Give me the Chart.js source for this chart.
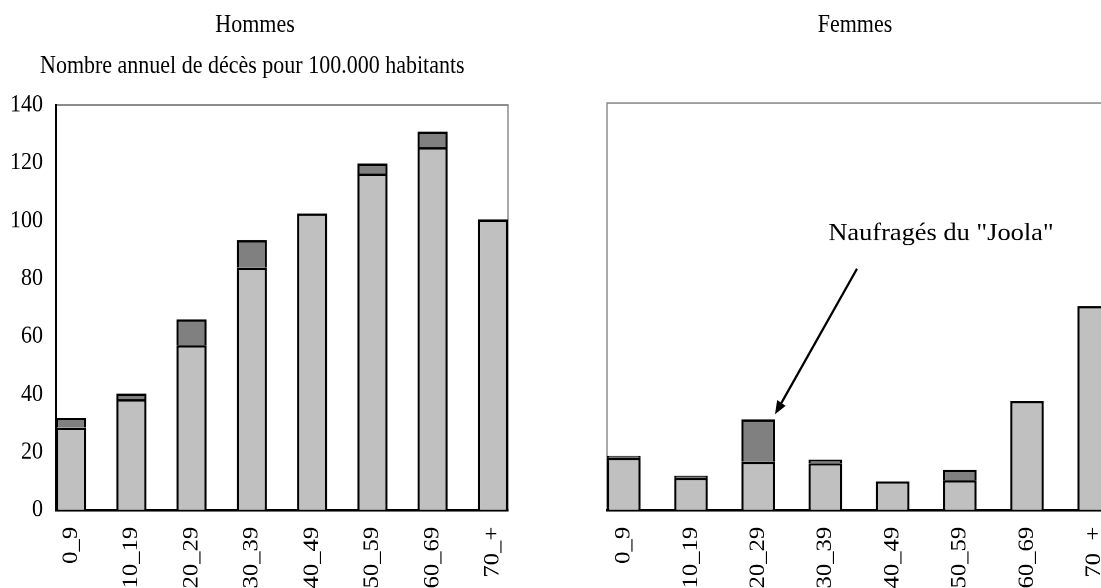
<!DOCTYPE html>
<html>
<head>
<meta charset="utf-8">
<script src="https://cdn.jsdelivr.net/npm/chart.js@4.4.1/dist/chart.umd.min.js"></script>
<style>
html,body{margin:0;padding:0;width:1101px;height:588px;overflow:hidden;background:#fff;}
#stage{position:absolute;left:0;top:0;width:1200px;height:525px;transform:scaleY(1.12);transform-origin:0 0;}
.t{position:absolute;font-family:"Liberation Serif","DejaVu Serif",serif;font-size:22px;line-height:26px;color:#000;white-space:nowrap;}
#wl{position:absolute;left:0;top:0;width:538px;height:571px;}
#wr{position:absolute;left:560px;top:0;width:582px;height:571px;}
</style>
</head>
<body>
<div id="stage">
<div id="wl"><canvas id="cl"></canvas></div>
<div id="wr"><canvas id="cr"></canvas></div>
<div class="t" id="tH" style="left:155px;width:200px;text-align:center;top:9px"></div>
<div class="t" id="tS" style="left:40px;top:45px"></div>
<div class="t" id="tF" style="left:755px;width:200px;text-align:center;top:9px"></div>
</div>
<script>
// ---- data ----
const ageGroups = ['0_9', '10_19', '20_29', '30_39', '40_49', '50_59', '60_69', '70_+'];
const yTicks = [0, 20, 40, 60, 80, 100, 120, 140];
const menOther = [28.5, 38.3, 57.0, 83.8, 102.5, 116.3, 125.4, 100.5];
const menJoola = [3.4, 2.0, 8.9, 9.5, 0, 3.5, 5.4, 0];
const womenOther = [18.0, 11.1, 16.6, 16.1, 9.9, 10.3, 37.5, 70.2];
const womenJoola = [0.7, 0.7, 14.6, 1.3, 0, 3.6, 0, 0];
const panelTitles = ['Hommes', 'Femmes'];
const yAxisTitle = 'Nombre annuel de décès pour 100.000 habitants';
const annotationText = 'Naufragés du "Joola"';
const annotatedIndex = 2;

document.getElementById('tH').textContent = panelTitles[0];
document.getElementById('tF').textContent = panelTitles[1];
document.getElementById('tS').textContent = yAxisTitle;

const FONT = '"Liberation Serif", "DejaVu Serif", serif';

const framePlugin = {
  id: 'frame',
  beforeDraw(chart) {
    const { ctx, chartArea: a } = chart;
    ctx.save();
    ctx.strokeStyle = '#8c8c8c';
    ctx.lineWidth = 1.5;
    ctx.strokeRect(a.left, a.top, a.right - a.left, a.bottom - a.top);
    ctx.restore();
  }
};

const arrowPlugin = {
  id: 'joolaArrow',
  afterDatasetsDraw(chart) {
    const ctx = chart.ctx;
    const bar = chart.getDatasetMeta(1).data[annotatedIndex];
    const tipX = bar.x + bar.width / 2;
    const tipY = bar.y - 4.5;
    const sx = tipX + 82, sy = tipY - 130;
    ctx.save();
    ctx.strokeStyle = '#000';
    ctx.fillStyle = '#000';
    ctx.lineWidth = 2.2;
    const ang = Math.atan2(tipY - sy, tipX - sx);
    const hl = 12, hw = 5;
    const bx = tipX - hl * Math.cos(ang), by = tipY - hl * Math.sin(ang);
    ctx.beginPath();
    ctx.moveTo(sx, sy);
    ctx.lineTo(bx, by);
    ctx.stroke();
    ctx.beginPath();
    ctx.moveTo(tipX, tipY);
    ctx.lineTo(bx + hw * Math.sin(ang), by - hw * Math.cos(ang));
    ctx.lineTo(bx - hw * Math.sin(ang), by + hw * Math.cos(ang));
    ctx.closePath();
    ctx.fill();
    ctx.translate(sx + 84, sy - 31);
    ctx.scale(1.2, 1);
    ctx.font = '22px ' + FONT;
    ctx.textAlign = 'center';
    ctx.textBaseline = 'middle';
    ctx.fillText(annotationText, 0, 0);
    ctx.restore();
  }
};

function makeChart(id, other, joola, cfg) {
  const pts = arr => arr.map((v, i) => ({ x: i, y: v }));
  const common = { borderColor: '#000', borderWidth: 2.2, barPercentage: 0.5, categoryPercentage: 1 };
  return new Chart(document.getElementById(id), {
    type: 'bar',
    data: {
      datasets: [
        Object.assign({ label: 'Autres décès', data: pts(other), backgroundColor: '#c0c0c0' }, common),
        Object.assign({ label: annotationText, data: pts(joola), backgroundColor: '#808080' }, common)
      ]
    },
    options: {
      responsive: true,
      maintainAspectRatio: false,
      animation: false,
      devicePixelRatio: 2,
      layout: { padding: { top: cfg.top, left: cfg.left, right: cfg.right, bottom: 0 } },
      plugins: { legend: { display: false }, tooltip: { enabled: false }, title: { display: false } },
      scales: {
        x: {
          type: 'linear',
          stacked: true,
          offset: false,
          min: -0.25,
          max: ageGroups.length - 0.75,
          afterBuildTicks: s => { s.ticks = ageGroups.map((_, i) => ({ value: i })); },
          afterFit: s => { s.height = 115.6; },
          ticks: {
            callback: v => ageGroups[v],
            minRotation: 90, maxRotation: 90, autoSkip: false, padding: 15,
            color: '#000', font: { family: FONT, size: 22 }
          },
          grid: { display: false, drawTicks: false },
          border: { display: true, color: '#000', width: 2.2 }
        },
        y: {
          stacked: true,
          display: cfg.showY,
          min: yTicks[0],
          max: yTicks[yTicks.length - 1],
          afterFit: s => { if (cfg.showY) s.width = 56; },
          ticks: { stepSize: yTicks[1] - yTicks[0], padding: 13, color: '#000', font: { family: FONT, size: 22 } },
          grid: { display: false, drawTicks: false },
          border: { display: true, color: '#000', width: 2 }
        }
      }
    },
    plugins: cfg.plugins
  });
}

makeChart('cl', menOther, menJoola, { top: 93.75, left: 0, right: 30, showY: true, plugins: [framePlugin] });
makeChart('cr', womenOther, womenJoola, { top: 92, left: 47, right: 31, showY: false, plugins: [framePlugin, arrowPlugin] });
</script>
</body>
</html>
